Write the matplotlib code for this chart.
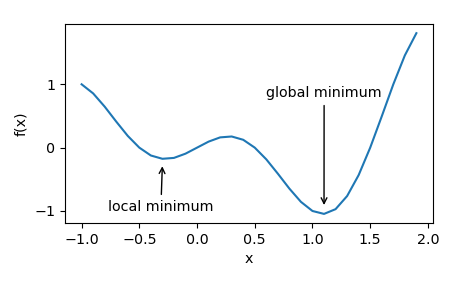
import matplotlib
matplotlib.use('Agg')
import matplotlib.pyplot as plt

plt.rcParams['font.size'] = 10.3

x = [-1.0, -0.9, -0.8, -0.7, -0.6, -0.5, -0.4, -0.3, -0.2, -0.1,
     0.0, 0.1, 0.2, 0.3, 0.4, 0.5, 0.6, 0.7, 0.8, 0.9,
     1.0, 1.1, 1.2, 1.3, 1.4, 1.5, 1.6, 1.7, 1.8, 1.9]
fx = [1.0, 0.856, 0.647, 0.411, 0.185, 0.0, -0.124, -0.176, -0.162, -0.095,
      0.0, 0.095, 0.162, 0.176, 0.124, 0.0, -0.185, -0.411, -0.647, -0.856,
      -1.0, -1.046, -0.971, -0.764, -0.433, 0.0, 0.494, 0.999, 1.456, 1.807]

fig = plt.figure(figsize=(4.77, 2.84), dpi=100)
ax = fig.add_axes([0.136, 0.215, 0.772, 0.70])
ax.plot(x, fx, color='#1f77b4', linewidth=1.5)

ax.annotate('local minimum', xy=(-0.3, -0.25), xytext=(-0.77, -1.0),
            arrowprops=dict(arrowstyle='->'))
ax.annotate('global minimum', xy=(1.1, -0.95), xytext=(0.6, 0.8),
            arrowprops=dict(arrowstyle='->'))

ax.set_xlabel('x')
ax.set_ylabel('f(x)')
ax.set_xticks([-1.0, -0.5, 0.0, 0.5, 1.0, 1.5, 2.0])
ax.set_yticks([-1, 0, 1])

fig.savefig('out.png', dpi=100)
